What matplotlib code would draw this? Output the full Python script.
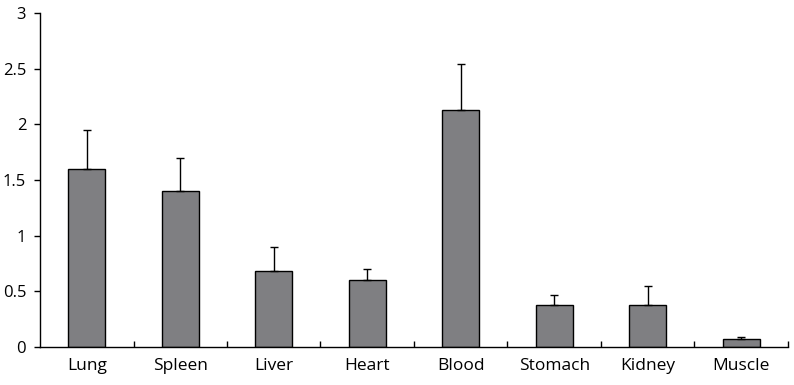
import numpy as np
import matplotlib
matplotlib.use("Agg")
import matplotlib.pyplot as plt
from matplotlib.ticker import FixedLocator

organs = ["Lung", "Spleen", "Liver", "Heart", "Blood", "Stomach", "Kidney", "Muscle"]
means = [1.60, 1.40, 0.68, 0.60, 2.13, 0.38, 0.38, 0.07]
upper = [0.35, 0.30, 0.22, 0.10, 0.41, 0.09, 0.17, 0.02]

plt.rcParams['font.family'] = ['Open Sans', 'DejaVu Sans']

fig = plt.figure(figsize=(7.94, 3.85), dpi=100)
ax = fig.add_axes([0.0504, 0.0987, 0.942, 0.867])

x = np.arange(len(organs))
ax.bar(x, means, width=0.4, color="#7f7f82", edgecolor="black", linewidth=1.0,
       yerr=[np.zeros(len(upper)), upper], capsize=3,
       error_kw=dict(ecolor="black", elinewidth=1.0, capthick=1.0))

ax.set_xlim(-0.5, len(organs) - 0.5)
ax.set_ylim(0, 3)
ax.set_yticks([0, 0.5, 1, 1.5, 2, 2.5, 3])
ax.set_yticklabels(["0", "0.5", "1", "1.5", "2", "2.5", "3"])
ax.set_xticks(x)
ax.set_xticklabels(organs)
# small upward ticks between categories
ax.xaxis.set_minor_locator(FixedLocator(list(x + 0.5)))

ax.spines["top"].set_visible(False)
ax.spines["right"].set_visible(False)
ax.spines["left"].set_linewidth(1.0)
ax.spines["bottom"].set_linewidth(1.0)

ax.tick_params(axis="y", direction="out", length=4, width=1, labelsize=12, pad=6)
ax.tick_params(axis="x", which="major", length=0, labelsize=12.5, pad=8)
ax.tick_params(axis="x", which="minor", direction="in", length=4, width=1)

fig.savefig("out.png", dpi=100)
